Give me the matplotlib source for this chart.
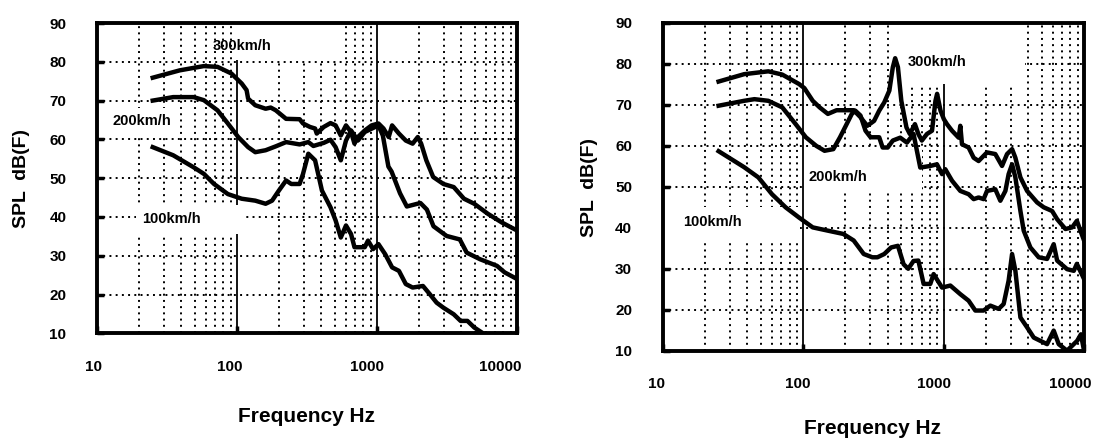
import matplotlib
matplotlib.use("Agg")
import matplotlib.pyplot as plt
from matplotlib.patches import Rectangle
from matplotlib.transforms import ScaledTranslation

plt.rcParams['font.family'] = ['Liberation Sans', 'DejaVu Sans']
plt.rcParams['font.weight'] = 'bold'

# ---- left panel (a) ----
l300_f = [25, 39, 58, 72.5, 91, 108, 117, 120, 135, 160, 174, 189, 224, 280, 296, 332,
          361, 371, 416, 465, 506, 551, 600, 652, 690, 730, 817, 914, 1023, 1112, 1211,
          1281, 1433, 1604, 1795, 1954, 2066, 2249, 2517, 2979, 3530, 4178, 4945, 6194,
          7762, 10000]
l300_db = [75.9, 77.8, 78.9, 78.7, 77.0, 74.4, 72.7, 70.5, 68.8, 67.9, 68.2, 67.5, 65.3,
           65.2, 64.1, 63.2, 62.8, 61.5, 63.2, 64.2, 63.6, 61.0, 63.6, 61.9, 58.9, 60.6,
           62.3, 63.6, 64.1, 62.8, 60.6, 63.6, 61.5, 59.7, 58.9, 60.6, 58.9, 54.6, 50.3,
           48.5, 47.7, 44.7, 43.4, 40.8, 38.6, 36.5]

l200_f = [25, 35, 49, 58, 72.5, 86, 102, 120, 135, 160, 189, 224, 280, 323, 351, 416,
          465, 506, 551, 600, 652, 730, 817, 1023, 1100, 1205, 1270, 1459, 1632, 2040,
          2270, 2530, 3140, 3900, 4370, 5440, 7180, 8160, 10000]
l200_db = [70.0, 70.9, 70.9, 70.1, 67.5, 64.1, 60.6, 58.0, 56.7, 57.2, 58.2, 59.3, 58.7,
           59.3, 58.3, 59.1, 59.9, 58.0, 54.6, 59.7, 62.3, 59.7, 61.9, 63.6, 61.0, 53.0,
           51.7, 46.1, 42.7, 43.6, 41.9, 37.6, 35.1, 34.2, 30.8, 29.1, 27.4, 25.7, 24.0]

l100_f = [25, 35, 49, 58, 68.5, 86, 108, 135, 160, 178, 199, 224, 244, 280, 296, 323,
          361, 404, 465, 506, 551, 600, 652, 690, 817, 862, 937, 1023, 1143, 1281, 1433,
          1604, 1795, 2128, 2380, 2664, 2979, 3530, 3951, 4420, 4945, 5880]
l100_db = [58.0, 55.9, 52.8, 51.1, 48.5, 45.9, 44.7, 44.2, 43.4, 44.2, 46.8, 49.4, 48.5,
           48.5, 51.1, 56.3, 54.6, 46.8, 42.5, 39.1, 34.7, 37.8, 35.6, 32.2, 32.2, 33.9,
           31.7, 33.0, 30.4, 27.0, 26.1, 22.7, 21.8, 22.2, 20.1, 17.9, 16.6, 14.9, 13.2,
           13.2, 11.5, 9.7]

# ---- right panel (b) ----
r300_f = [25, 38, 56.5, 71, 93.5, 102, 117, 131, 150, 173, 229, 256, 286, 320, 348, 378,
          411, 435, 452, 473, 500, 544, 575, 625, 661, 700, 761, 827, 875, 899, 951, 1005,
          1057, 1148, 1280, 1315, 1352, 1507, 1637, 1775, 2037, 2334, 2606, 2830, 3073,
          3244, 3523, 3930, 4630, 5165, 5925, 6432, 7370, 8220, 8890, 10000]
r300_db = [75.7, 77.5, 78.2, 77.4, 75.1, 74.1, 71.0, 69.4, 67.8, 68.7, 68.7, 67.0, 64.9,
           66.1, 68.6, 70.6, 73.5, 79.2, 81.4, 79.2, 71.0, 64.5, 62.9, 65.3, 62.9, 61.3,
           62.9, 63.7, 71.0, 72.7, 68.6, 66.5, 65.3, 63.7, 62.0, 64.9, 60.4, 59.6, 57.1,
           56.3, 58.4, 58.0, 55.1, 58.0, 59.2, 57.1, 52.3, 49.0, 46.2, 45.0, 44.1, 42.1,
           39.7, 40.1, 41.7, 36.9]

r200_f = [25, 38, 45, 56.5, 71, 88.5, 104.5, 124, 142, 164, 183, 204, 222, 235, 256, 278,
          302, 348, 368, 400, 435, 491, 548, 611, 682, 804, 897, 975, 1028, 1148, 1315,
          1507, 1637, 1775, 1928, 2037, 2334, 2535, 2754, 2904, 3073, 3244, 3523, 3719,
          4148, 4755, 5454, 6080, 6432, 7570, 8450, 8890, 10000]
r200_db = [69.8, 71.0, 71.4, 71.0, 69.4, 65.3, 62.1, 60.0, 58.8, 59.2, 62.1, 65.3, 67.8,
           68.6, 67.4, 63.7, 62.1, 62.1, 59.6, 59.6, 61.3, 62.0, 60.8, 62.9, 54.7, 55.1,
           55.5, 53.1, 54.3, 51.5, 49.0, 48.2, 47.0, 47.4, 47.0, 49.0, 49.4, 46.6, 49.0,
           53.1, 55.5, 52.3, 44.1, 39.3, 35.2, 32.8, 32.4, 36.0, 32.0, 29.9, 29.5, 31.2,
           27.5]

r100_f = [25, 38, 48, 60, 75, 93.5, 117, 150, 193, 229, 270, 311, 338, 378, 423, 473, 519,
          560, 611, 661, 721, 804, 849, 975, 1117, 1315, 1507, 1682, 1928, 2151, 2466,
          2677, 2904, 3073, 3244, 3523, 3930, 4385, 4887, 5454, 6080, 6600, 7570, 8450,
          8930, 9500, 10000]
r100_db = [58.7, 54.8, 52.3, 48.2, 45.0, 42.5, 40.1, 39.3, 38.5, 36.9, 33.6, 32.8, 32.8,
           33.6, 35.2, 35.6, 31.1, 30.0, 31.9, 32.0, 26.3, 26.3, 28.7, 25.4, 25.9, 23.8,
           22.2, 19.8, 19.8, 21.0, 20.2, 21.4, 27.1, 33.6, 29.5, 18.1, 15.7, 13.2, 12.4,
           11.6, 14.9, 11.6, 10.0, 11.6, 12.4, 14.0, 10.0]

speed_labels = ["300km/h", "200km/h", "100km/h"]
x_ticks = [10, 100, 1000, 10000]
y_ticks = [10, 20, 30, 40, 50, 60, 70, 80, 90]

# label text anchors (left, centre-y) and white boxes (f0, f1, db0, db1)
left_text = [(67, 84.1), (13.0, 64.7), (20.9, 39.6)]
left_boxes = [(98, 509, 80.5, 90), (10.2, 36, 61.4, 68.1), (19, 116, 35.6, 43.1)]
right_text = [(559, 80.5), (108.6, 52.3), (13.9, 41.3)]
right_boxes = [(475, 3800, 75.1, 90), (101.7, 705, 48.5, 59), (10.2, 95, 37.0, 45.1)]

# scanned tick labels sit a little left of their grid lines (pixels)
left_shift = [-4, -7, -10, -17]
right_shift = [-6, -5, -10, -14]

fig = plt.figure(figsize=(10.95, 4.41), dpi=100)
ax1 = fig.add_axes([0.0886, 0.2442, 0.3836, 0.7036])
ax2 = fig.add_axes([0.6052, 0.2048, 0.3848, 0.7431])

panels = [
    (ax1, [(l300_f, l300_db), (l200_f, l200_db), (l100_f, l100_db)], left_text, left_boxes,
     left_shift, (22 / 1095, 0.596), (307 / 1095, 1 - 417 / 441)),
    (ax2, [(r300_f, r300_db), (r200_f, r200_db), (r100_f, r100_db)], right_text, right_boxes,
     right_shift, (589 / 1095, 0.574), (873 / 1095, 1 - 428 / 441)),
]

for ax, curves, texts, boxes, shifts, ylab, xlab in panels:
    ax.set_xscale('log')
    ax.set_xlim(10, 10000)
    ax.set_ylim(10, 90)
    ax.set_axisbelow(True)
    ax.grid(True, which='major', axis='x', color='black', lw=1.3, ls='-')
    ax.grid(True, which='minor', axis='x', color='black', lw=1.4, ls=(0, (1, 2.2)))
    ax.grid(True, which='major', axis='y', color='black', lw=1.4, ls=(0, (1, 2.2)))
    for f, db in curves:
        ax.plot(f, db, color='black', lw=3.2, solid_joinstyle='round', zorder=3)
    for (f0, f1, d0, d1) in boxes:
        ax.add_patch(Rectangle((f0, d0), f1 - f0, d1 - d0, facecolor='white',
                               edgecolor='none', zorder=1))
    for (tx, ty), lab in zip(texts, speed_labels):
        ax.text(tx, ty, lab, ha='left', va='center', fontsize=10.5, fontweight='bold',
                zorder=4)
    ax.set_xticks(x_ticks)
    ax.set_xticklabels([str(t) for t in x_ticks])
    ax.set_yticks(y_ticks)
    ax.tick_params(axis='both', which='major', direction='in', length=5, width=2.5,
                   labelsize=11, colors='black')
    ax.tick_params(axis='x', which='major', pad=19)
    ax.tick_params(axis='y', which='major', pad=22)
    ax.tick_params(axis='x', which='minor', length=0)
    for lbl, dx in zip(ax.get_xticklabels(), shifts):
        lbl.set_fontweight('bold')
        lbl.set_transform(lbl.get_transform() + ScaledTranslation(dx / 100, 0, fig.dpi_scale_trans))
    for lbl in ax.get_yticklabels():
        lbl.set_fontweight('bold')
    for sp in ax.spines.values():
        sp.set_linewidth(2.8)
        sp.set_color('black')
    fig.text(ylab[0], ylab[1], "SPL  dB(F)", rotation=90, ha='center', va='center',
             fontsize=14, fontweight='bold')
    fig.text(xlab[0], xlab[1], "Frequency Hz", ha='center', va='center',
             fontsize=15, fontweight='bold')

fig.savefig("out.png", dpi=100, facecolor='white')
